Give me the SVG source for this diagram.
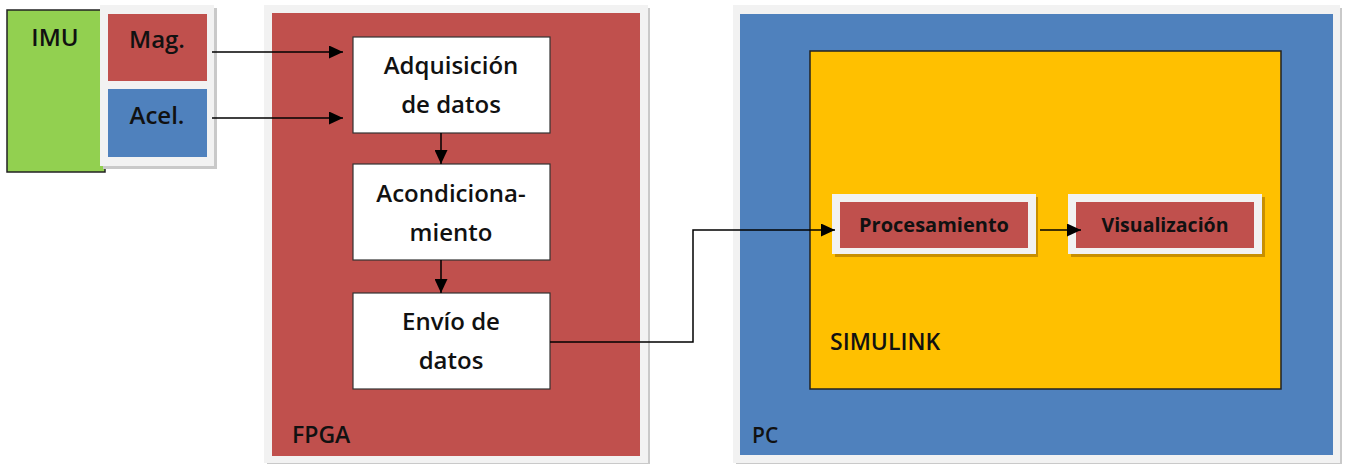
<svg xmlns="http://www.w3.org/2000/svg" width="1347" height="464" viewBox="0 0 1347 464">
<defs>
<marker id="ah" markerWidth="14" markerHeight="13" refX="14" refY="6.5" orient="auto" markerUnits="userSpaceOnUse">
<path d="M0,0 L14,6.5 L0,13 z" fill="#000"/>
</marker>
<style>
.t{font-family:"Open Sans","Liberation Sans",sans-serif;font-weight:600;fill:#111;}
.b{font-weight:bold;}
.c{text-anchor:middle;}
.bx{font-size:24px;}
.frame{fill:#f2f2f2;}
.sh{fill:#c9c9c9;}
.red{fill:#c0504d;}
.blue{fill:#4f81bd;}
.wbox{fill:#fff;stroke:#333;stroke-width:1.2;}
.ln{fill:none;stroke:#000;stroke-width:1.5;}
</style>
</defs>
<rect width="1347" height="464" fill="#fff"/>

<g id="fpga">
<rect class="sh" x="267" y="8" width="383" height="456"/>
<rect class="frame" x="264" y="5" width="384" height="458"/>
<rect class="red" x="272" y="13" width="368" height="443"/>
<text class="t" x="292" y="443" font-size="23">FPGA</text>
</g>

<g id="pc">
<rect class="sh" x="736" y="8" width="606" height="456"/>
<rect class="frame" x="733" y="5" width="607" height="458"/>
<rect class="blue" x="740" y="14" width="593" height="441"/>
<text class="t" x="752" y="443" font-size="21">PC</text>
</g>

<g id="simulink">
<rect x="810" y="51" width="471" height="338" fill="#ffc000" stroke="#222" stroke-width="1.5"/>
<text class="t" x="830" y="350" font-size="23">SIMULINK</text>
</g>

<g id="imu">
<rect x="7" y="10" width="98" height="162" fill="#92d050" stroke="#222" stroke-width="1.5"/>
<text class="t c" x="55" y="46" font-size="24">IMU</text>
</g>

<g id="sensors">
<rect class="sh" x="103" y="8" width="114" height="161"/>
<rect class="frame" x="100" y="5" width="114" height="161"/>
</g>
<g id="mag">
<rect class="red" x="108" y="14" width="99" height="67"/>
<text class="t c" x="157" y="48" font-size="24">Mag.</text>
</g>
<g id="acel">
<rect class="blue" x="108" y="89" width="99" height="68"/>
<text class="t c" x="157" y="124" font-size="24">Acel.</text>
</g>

<g id="adquisicion">
<rect class="wbox" x="353" y="37" width="197" height="96"/>
<text class="t c bx" x="451" y="74">Adquisición</text>
<text class="t c bx" x="451" y="113">de datos</text>
</g>
<g id="acondicionamiento">
<rect class="wbox" x="353" y="164" width="197" height="96"/>
<text class="t c bx" x="451" y="202">Acondiciona-</text>
<text class="t c bx" x="451" y="241">miento</text>
</g>
<g id="envio">
<rect class="wbox" x="353" y="293" width="197" height="96"/>
<text class="t c bx" x="451" y="330">Envío de</text>
<text class="t c bx" x="451" y="369">datos</text>
</g>

<g id="procesamiento">
<rect x="835" y="197" width="203" height="60" fill="#b07a00" opacity="0.7"/>
<rect class="frame" x="832" y="194" width="204" height="60"/>
<rect class="red" x="840" y="202" width="188" height="46"/>
<text class="t b c" x="934" y="232" font-size="20">Procesamiento</text>
</g>
<g id="visualizacion">
<rect x="1071" y="197" width="194" height="60" fill="#b07a00" opacity="0.7"/>
<rect class="frame" x="1068" y="194" width="194" height="60"/>
<rect class="red" x="1076" y="202" width="178" height="46"/>
<text class="t b c" x="1165" y="232" font-size="19.5">Visualización</text>
</g>

<g id="connectors">
<line class="ln" x1="212" y1="52" x2="343" y2="52" marker-end="url(#ah)"/>
<line class="ln" x1="212" y1="118" x2="343" y2="118" marker-end="url(#ah)"/>
<line class="ln" x1="441" y1="133" x2="441" y2="164" marker-end="url(#ah)"/>
<line class="ln" x1="441" y1="260" x2="441" y2="293" marker-end="url(#ah)"/>
<polyline class="ln" points="550,342 693,342 693,230 835,230" marker-end="url(#ah)"/>
<line class="ln" x1="1040" y1="230" x2="1081" y2="230" marker-end="url(#ah)"/>
</g>
</svg>
